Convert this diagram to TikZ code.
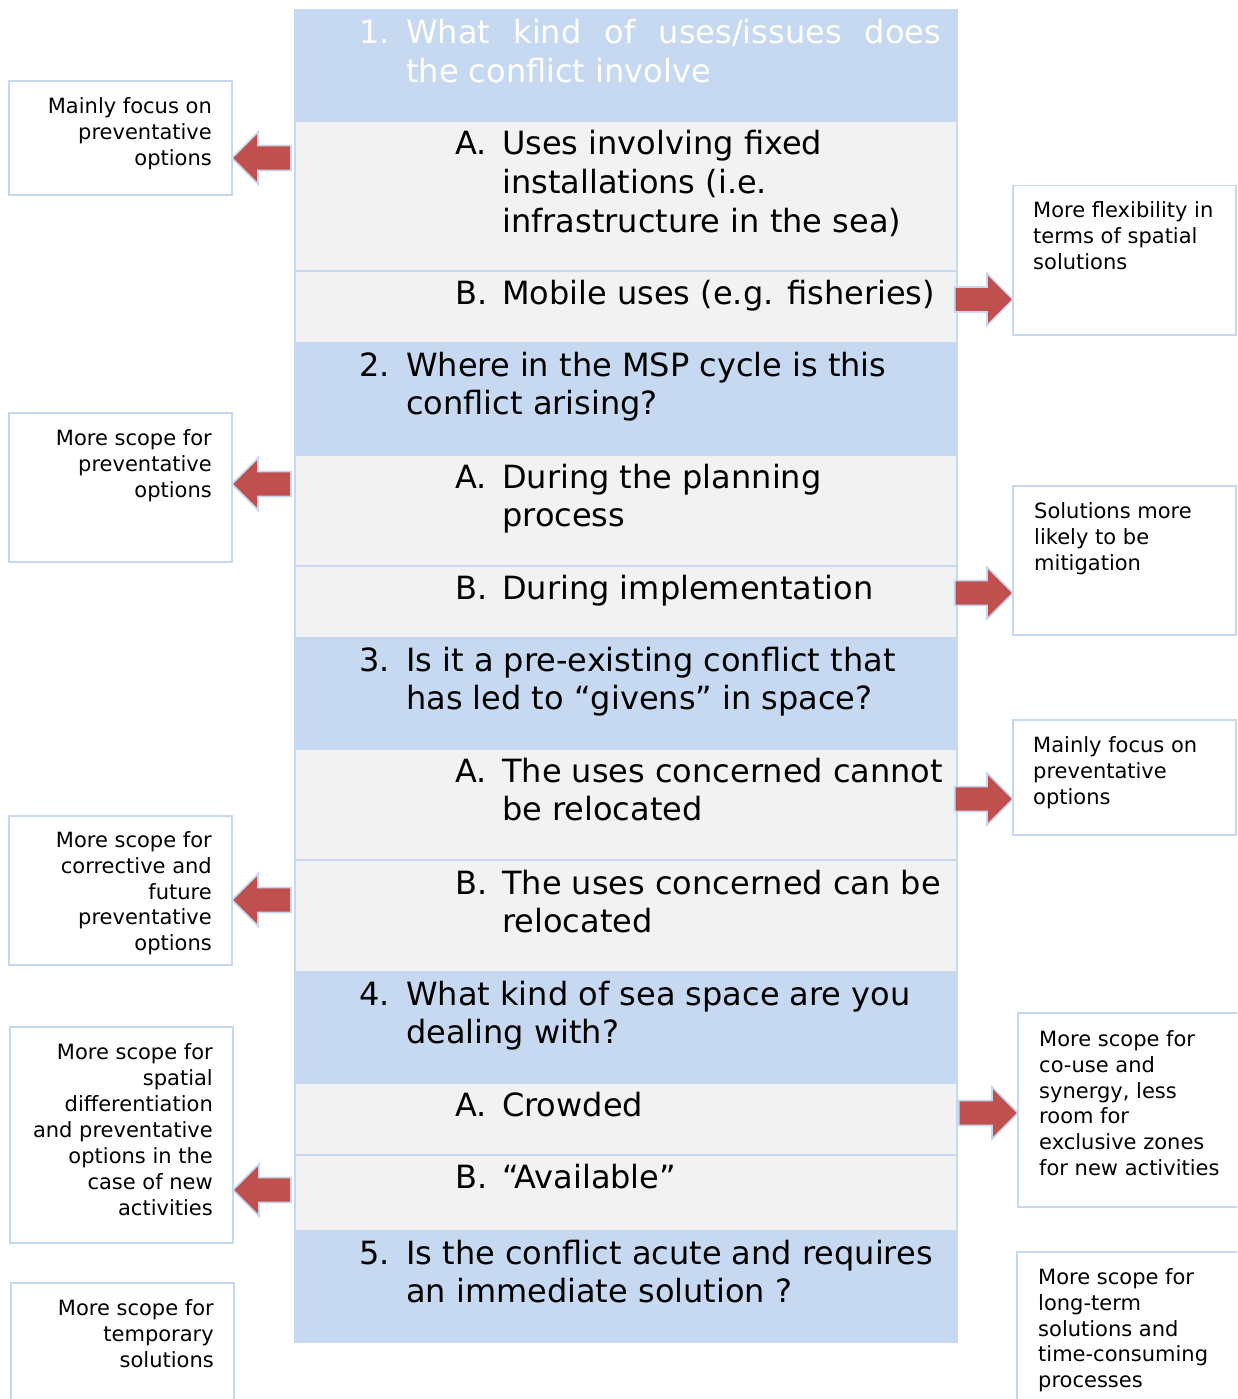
\documentclass[tikz,border=0pt]{standalone}
\usepackage{fontspec}
\setmainfont{DejaVu Sans}
\usetikzlibrary{calc}
\definecolor{qblue}{HTML}{C6D9F1}
\definecolor{rowgray}{HTML}{F2F2F2}
\definecolor{arrred}{HTML}{C0504D}
\definecolor{edgeblue}{HTML}{C6D9F1}
\definecolor{boxedge}{HTML}{C6D8F0}
\tikzset{
 colbox/.style={fill=qblue, draw=none, anchor=north west, inner sep=0pt, outer sep=0pt, minimum width=664pt, minimum height=1334pt},
 rowbox/.style={fill=rowgray, draw=none, anchor=north west, inner sep=0pt, outer sep=0pt, minimum width=659.7pt},
 sidebox/.style={fill=white, draw=boxedge, line width=1.3pt, anchor=north west, inner sep=0pt, outer sep=0pt},
 mtxt/.style={anchor=north west, inner sep=0pt, yshift=27.1pt, align=left, font=\fontsize{32}{38.7}\selectfont},
 ltxt/.style={anchor=north east, inner sep=0pt, yshift=18.1pt, align=right, font=\fontsize{21}{25.9}\selectfont},
 rtxt/.style={anchor=north west, inner sep=0pt, yshift=18.1pt, align=left, font=\fontsize{21}{25.9}\selectfont},
 blk/.style={fill=arrred, draw=edgeblue, line width=1.6pt, line join=miter},
}
\newcommand\blockarrow[4]{%
  \filldraw[blk] let \p1=(#1), \p2=(#2) in
   (\x1,{#3pt+12.5pt}) -- ({\x2-(#4)*26pt},{#3pt+12.5pt}) -- ({\x2-(#4)*26pt},{#3pt+26pt})
   -- (\x2,#3pt) -- ({\x2-(#4)*26pt},{#3pt-26pt}) -- ({\x2-(#4)*26pt},{#3pt-12.5pt})
   -- (\x1,{#3pt-12.5pt}) -- cycle;}
\newcommand\ind{\hspace*{47pt}}
\begin{document}
\begin{tikzpicture}[x=1pt,y=1pt]
\useasboundingbox (0,0) rectangle (1237,-1399);
\clip (0,0) rectangle (1237,-1399);
% main column
\node[colbox] (col) at (294,-9) {};
\node[rowbox, minimum height=148pt] (g1a) at (296,-122) {};
\node[rowbox, minimum height=69.7pt] (g1b) at (296,-272) {};
\node[rowbox, minimum height=109pt] (g2a) at (296,-456) {};
\node[rowbox, minimum height=69.7pt] (g2b) at (296,-567) {};
\node[rowbox, minimum height=109pt] (g3a) at (296,-750) {};
\node[rowbox, minimum height=109.7pt] (g3b) at (296,-861) {};
\node[rowbox, minimum height=70pt] (g4a) at (296,-1084) {};
\node[rowbox, minimum height=74pt] (g4b) at (296,-1156) {};
% side boxes
\node[sidebox, minimum width=223pt, minimum height=114pt] (sl1) at (9,-81) {};
\node[sidebox, minimum width=223pt, minimum height=149pt] (sl2) at (9,-413) {};
\node[sidebox, minimum width=223pt, minimum height=149pt] (sl3) at (9,-816) {};
\node[sidebox, minimum width=223pt, minimum height=216pt] (sl4) at (10,-1027) {};
\node[sidebox, minimum width=223pt, minimum height=130pt] (sl5) at (11,-1283) {};
\node[sidebox, minimum width=223pt, minimum height=149.5pt] (sr1) at (1013,-185.5) {};
\node[sidebox, minimum width=223pt, minimum height=149pt] (sr2) at (1013,-486) {};
\node[sidebox, minimum width=223pt, minimum height=115pt] (sr3) at (1013,-720) {};
\node[sidebox, minimum width=225pt, minimum height=194pt] (sr4) at (1018,-1013) {};
\node[sidebox, minimum width=225pt, minimum height=160pt] (sr5) at (1017,-1252) {};
% arrows
\blockarrow{$(g1a.west)+(-5,0)$}{sl1.east}{-158}{-1}
\blockarrow{$(g1b.east)+(-1,0)$}{sr1.west}{-299.5}{1}
\blockarrow{$(g2a.west)+(-5,0)$}{sl2.east}{-484}{-1}
\blockarrow{$(g2b.east)+(-1,0)$}{sr2.west}{-593}{1}
\blockarrow{$(g3a.east)+(-1,0)$}{sr3.west}{-799}{1}
\blockarrow{$(g3b.west)+(-5,0)$}{sl3.east}{-900}{-1}
\blockarrow{$(g4a.east)+(3,0)$}{sr4.west}{-1113}{1}
\blockarrow{$(g4b.west)+(-5,0)$}{sl4.east}{-1190}{-1}
% main texts
\node[mtxt, text=white] (q1) at (359,-43.5) {\strut\makebox[47pt][l]{1.}\makebox[535pt][s]{What kind of uses/issues does}\\\ind the conflict involve};
\node[mtxt] (t1a) at (455,-154.5) {\strut\makebox[47pt][l]{A.}Uses involving fixed\\\ind installations (i.e.\\\ind infrastructure in the sea)};
\node[mtxt] (t1b) at (455,-304) {\strut\makebox[47pt][l]{B.}Mobile uses (e.g. fisheries)};
\node[mtxt] (q2) at (359,-376) {\strut\makebox[47pt][l]{2.}Where in the MSP cycle is this\\\ind conflict arising?};
\node[mtxt] (t2a) at (455,-488) {\strut\makebox[47pt][l]{A.}During the planning\\\ind process};
\node[mtxt] (t2b) at (455,-599) {\strut\makebox[47pt][l]{B.}During implementation};
\node[mtxt] (q3) at (359,-671) {\strut\makebox[47pt][l]{3.}Is it a pre-existing conflict that\\\ind has led to “givens” in space?};
\node[mtxt] (t3a) at (455,-782) {\strut\makebox[47pt][l]{A.}The uses concerned cannot\\\ind be relocated};
\node[mtxt] (t3b) at (455,-894) {\strut\makebox[47pt][l]{B.}The uses concerned can be\\\ind relocated};
\node[mtxt] (q4) at (359,-1005) {\strut\makebox[47pt][l]{4.}What kind of sea space are you\\\ind dealing with?};
\node[mtxt] (t4a) at (455,-1116) {\strut\makebox[47pt][l]{A.}Crowded};
\node[mtxt] (t4b) at (455,-1188) {\strut\makebox[47pt][l]{B.}“Available”};
\node[mtxt] (q5) at (359,-1264) {\strut\makebox[47pt][l]{5.}Is the conflict acute and requires\\\ind an immediate solution ?};
% side texts
\node[ltxt] (tl1) at (212,-113) {\strut Mainly focus on\\preventative\\options};
\node[ltxt] (tl2) at (212,-445) {\strut More scope for\\preventative\\options};
\node[ltxt] (tl3) at (212,-847) {\strut More scope for\\corrective and\\future\\preventative\\options};
\node[ltxt] (tl4) at (213,-1059.5) {\strut More scope for\\spatial\\differentiation\\and preventative\\options in the\\case of new\\activities};
\node[ltxt] (tl5) at (214,-1315) {\strut More scope for\\temporary\\solutions};
\node[rtxt] (tr1) at (1033,-217.5) {\strut More flexibility in\\terms of spatial\\solutions};
\node[rtxt] (tr2) at (1034,-518) {\strut Solutions more\\likely to be\\mitigation};
\node[rtxt] (tr3) at (1033,-752) {\strut Mainly focus on\\preventative\\options};
\node[rtxt] (tr4) at (1039,-1046) {\strut More scope for\\co-use and\\synergy, less\\room for\\exclusive zones\\for new activities};
\node[rtxt] (tr5) at (1038,-1284) {\strut More scope for\\long-term\\solutions and\\time-consuming\\processes};
\end{tikzpicture}
\end{document}
